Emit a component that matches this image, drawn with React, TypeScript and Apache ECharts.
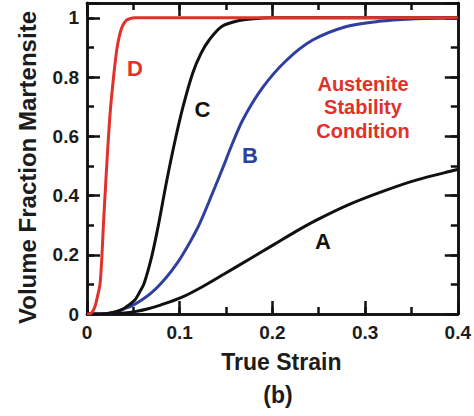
import React, { useEffect, useRef } from "react";
import * as echarts from "echarts";

// Volume fraction of martensite vs. true strain for four austenite stability conditions
const strainA = [0, 0.02, 0.03, 0.04, 0.0516, 0.065, 0.08, 0.102, 0.125, 0.148, 0.175, 0.202, 0.225, 0.247, 0.283, 0.319, 0.355, 0.3975, 0.4];
const fracA = [0, 0, 0.001, 0.003, 0.008, 0.017, 0.031, 0.056, 0.093, 0.135, 0.185, 0.235, 0.278, 0.316, 0.37, 0.414, 0.452, 0.486, 0.488];

const strainB = [0, 0.01, 0.02, 0.028, 0.037, 0.048, 0.059, 0.07, 0.08, 0.091, 0.102, 0.12, 0.135, 0.148, 0.1538, 0.168, 0.1896, 0.2147, 0.243, 0.279, 0.315, 0.35, 0.4];
const fracB = [0, 0, 0.001, 0.005, 0.014, 0.027, 0.047, 0.073, 0.104, 0.145, 0.194, 0.295, 0.405, 0.505, 0.552, 0.655, 0.765, 0.855, 0.924, 0.97, 0.988, 0.996, 1.0];

const strainC = [0, 0.01, 0.019, 0.028, 0.037, 0.045, 0.0516, 0.057, 0.0617, 0.0695, 0.0767, 0.0857, 0.0946, 0.1036, 0.114, 0.123, 0.132, 0.145, 0.163, 0.18, 0.2, 0.25, 0.3, 0.4];
const fracC = [0, 0, 0.001, 0.005, 0.014, 0.03, 0.047, 0.075, 0.104, 0.19, 0.295, 0.445, 0.58, 0.7, 0.813, 0.88, 0.926, 0.97, 0.99, 0.997, 1, 1, 1, 1];

const strainD = [0, 0.003, 0.006, 0.0086, 0.011, 0.014, 0.016, 0.0176, 0.02, 0.022, 0.025, 0.028, 0.032, 0.035, 0.038, 0.042, 0.046, 0.052, 0.06, 0.1, 0.2, 0.3, 0.4];
const fracD = [0, 0, 0.008, 0.025, 0.055, 0.1, 0.19, 0.295, 0.43, 0.54, 0.68, 0.78, 0.89, 0.94, 0.97, 0.99, 0.997, 1, 1, 1, 1, 1, 1];

const curveNames = ["A", "B", "C", "D"];
const xTickLabels = ["0", "0.1", "0.2", "0.3", "0.4"];
const yTickLabels = ["0", "0.2", "0.4", "0.6", "0.8", "1"];

const RED = "#e0312a";
const BLUE = "#2f3f9f";
const BLACK = "#111111";
const FONT = "'Liberation Sans', Arial, Helvetica, sans-serif";

const pairs = (xs: number[], ys: number[]) => xs.map((x, i) => [x, ys[i]]);

const fmt = (labels: string[]) => (v: number) => {
  const s = String(+v.toFixed(3));
  return labels.includes(s) ? s : "";
};

function axis(
  dim: "x" | "y",
  position: string,
  interval: number,
  tickLen: number,
  withLabels: boolean,
  extra: Record<string, unknown> = {}
) {
  return {
    type: "value",
    position,
    min: 0,
    max: dim === "x" ? 0.4 : 1.05,
    interval,
    axisLine: { show: true, onZero: false, lineStyle: { color: BLACK, width: 2.5 } },
    axisTick: { show: true, inside: true, length: tickLen, lineStyle: { color: BLACK, width: 2.5 } },
    axisLabel: withLabels
      ? {
          show: true,
          fontSize: 19,
          fontWeight: "bold",
          fontFamily: FONT,
          color: "#1c1c1c",
          margin: dim === "x" ? 9 : 8,
          formatter: fmt(dim === "x" ? xTickLabels : yTickLabels),
        }
      : { show: false },
    splitLine: { show: false },
    ...extra,
  };
}

export default function App() {
  const ref = useRef<HTMLDivElement>(null);

  useEffect(() => {
    document.body.style.margin = "0";
    if (!ref.current) return;
    const chart = echarts.init(ref.current, null, { renderer: "svg" });
    const colors = [BLACK, BLUE, BLACK, RED];
    const data = [pairs(strainA, fracA), pairs(strainB, fracB), pairs(strainC, fracC), pairs(strainD, fracD)];

    chart.setOption({
      animation: false,
      backgroundColor: "#ffffff",
      grid: { left: 87, right: 15, top: 3, bottom: 102 },
      xAxis: [
        axis("x", "bottom", 0.1, 13, true, {
          name: "True Strain",
          nameLocation: "middle",
          nameGap: 36,
          nameTextStyle: {
            fontSize: 23,
            fontWeight: "bold",
            fontFamily: FONT,
            color: "#1c1c1c",
            padding: [0, 0, 0, 18],
          },
        }),
        axis("x", "bottom", 0.05, 7, false),
        axis("x", "top", 0.1, 13, false),
        axis("x", "top", 0.05, 7, false),
      ],
      yAxis: [
        axis("y", "left", 0.2, 13, true, {
          name: "Volume Fraction Martensite",
          nameLocation: "middle",
          nameGap: 48,
          nameTextStyle: {
            fontSize: 24,
            fontWeight: "bold",
            fontFamily: FONT,
            color: "#1c1c1c",
            padding: [0, 18, 0, 0],
          },
        }),
        axis("y", "left", 0.1, 7, false),
        axis("y", "right", 0.2, 13, false),
        axis("y", "right", 0.1, 7, false),
      ],
      series: data.map((d, i) => ({
        type: "line",
        name: curveNames[i],
        xAxisIndex: 0,
        yAxisIndex: 0,
        data: d,
        showSymbol: false,
        smooth: 0.3,
        lineStyle: { color: colors[i], width: 3 },
        z: i === 3 ? 4 : 3,
      })),
      graphic: [
        { type: "text", x: 135, y: 68, style: { text: "D", fill: RED, fontSize: 22, fontWeight: "bold", fontFamily: FONT, align: "center", verticalAlign: "middle" } },
        { type: "text", x: 202.5, y: 109.5, style: { text: "C", fill: BLACK, fontSize: 22, fontWeight: "bold", fontFamily: FONT, align: "center", verticalAlign: "middle" } },
        { type: "text", x: 250, y: 155, style: { text: "B", fill: BLUE, fontSize: 22, fontWeight: "bold", fontFamily: FONT, align: "center", verticalAlign: "middle" } },
        { type: "text", x: 323, y: 241, style: { text: "A", fill: BLACK, fontSize: 22, fontWeight: "bold", fontFamily: FONT, align: "center", verticalAlign: "middle" } },
        {
          type: "text",
          x: 363,
          y: 107,
          style: {
            text: "Austenite\nStability\nCondition",
            fill: RED,
            fontSize: 20,
            lineHeight: 23.5,
            fontWeight: "bold",
            fontFamily: FONT,
            align: "center",
            verticalAlign: "middle",
          },
        },
        { type: "text", x: 278, y: 395, style: { text: "(b)", fill: "#1c1c1c", fontSize: 23, fontWeight: "bold", fontFamily: FONT, align: "center", verticalAlign: "middle" } },
      ],
    });

    return () => chart.dispose();
  }, []);

  return <div ref={ref} style={{ width: 474, height: 416 }} />;
}
